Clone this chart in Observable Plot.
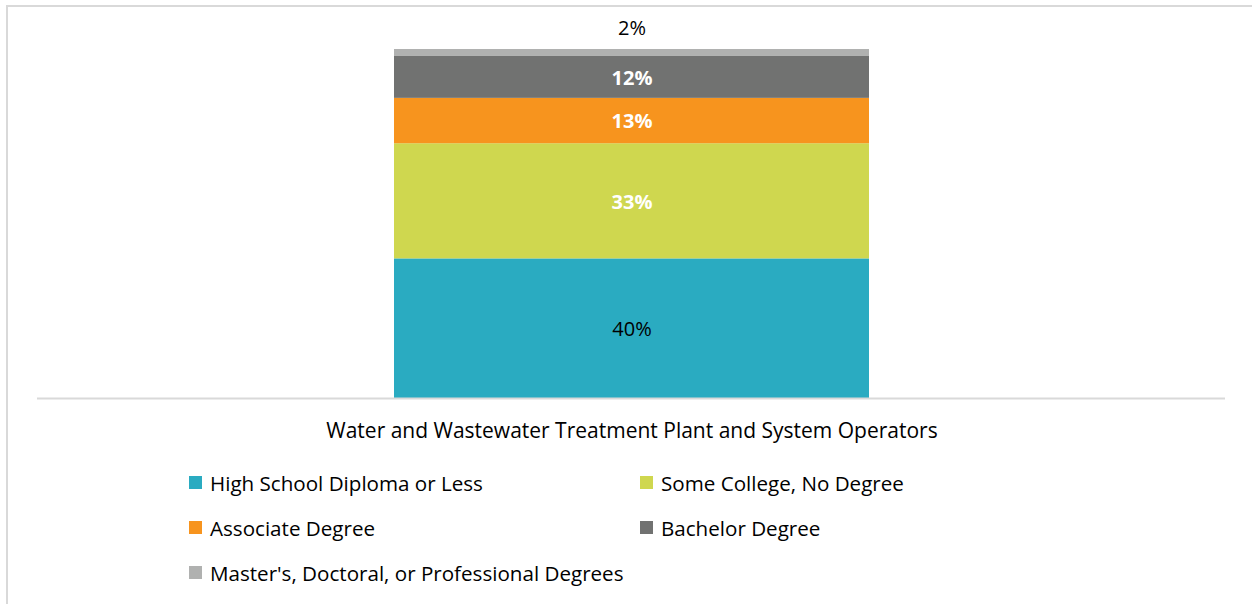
<!DOCTYPE html>
<html>
<head>
<meta charset="utf-8">
<script src="https://cdn.jsdelivr.net/npm/d3@7"></script>
<script src="https://cdn.jsdelivr.net/npm/@observablehq/plot@0.6"></script>
<style>
  html, body { margin: 0; padding: 0; background: #fff; }
  #page { position: relative; width: 1252px; height: 604px; overflow: hidden; font-family: "Open Sans", sans-serif; }
  #frame { position: absolute; left: 6px; top: 5px; width: 1300px; height: 700px; border-top: 2px solid #d9d9d9; border-left: 2px solid #d9d9d9; }
  #chart { position: absolute; left: 0; top: 0; }
  #legend { position: absolute; left: 189px; top: 460px; width: 900px; display: grid; grid-template-columns: 451px 451px; grid-auto-rows: 45px; }
  .item { display: flex; align-items: center; font-size: 20.6px; color: #000; height: 45px; }
  .sw { width: 13px; height: 13px; margin-right: 8px; flex: none; }
</style>
</head>
<body>
<div id="page">
  <div id="frame"></div>
  <div id="chart"></div>
  <div id="legend"></div>
</div>
<script>
const category = "Water and Wastewater Treatment Plant and System Operators";
const levels = ["High School Diploma or Less", "Some College, No Degree", "Associate Degree", "Bachelor Degree", "Master's, Doctoral, or Professional Degrees"];
const shares = [40, 33, 13, 12, 2];
const colors = ["#2AABC1", "#CFD74F", "#F7941E", "#717271", "#B0B1B0"];

const data = levels.map((lvl, i) => ({cat: category, level: lvl, value: shares[i]}));
const lastLevel = levels[levels.length - 1];
const darkLabels = new Set([levels[0]]);
const pct = d => `${d.value}%`;

const plot = Plot.plot({
  width: 1252,
  height: 450,
  marginLeft: 37,
  marginRight: 27,
  marginTop: 49,
  marginBottom: 52,
  style: {fontFamily: "Open Sans, sans-serif", fontSize: "20px", background: "transparent"},
  x: {domain: [category], padding: 0.4286, label: null},
  y: {domain: [0, 100], axis: null},
  color: {domain: levels, range: colors},
  marks: [
    Plot.barY(data, {x: "cat", y: "value", fill: "level", z: "level", order: levels}),
    Plot.ruleY([0], {stroke: "#d9d9d9", strokeWidth: 2}),
    Plot.axisX({tickSize: 0, tickPadding: 25, fontSize: 21, fill: "#000", label: null}),
    Plot.text(data, Plot.stackY({x: "cat", y: "value", z: "level", order: levels,
      text: d => (d.level !== lastLevel && !darkLabels.has(d.level)) ? pct(d) : null,
      fill: "white", fontWeight: "bold", fontSize: 20, dy: 1})),
    Plot.text(data, Plot.stackY({x: "cat", y: "value", z: "level", order: levels,
      text: d => darkLabels.has(d.level) ? pct(d) : null,
      fill: "black", fontSize: 20, dy: 1})),
    Plot.text(data, Plot.stackY2({x: "cat", y: "value", z: "level", order: levels,
      text: d => d.level === lastLevel ? pct(d) : null,
      fill: "black", fontSize: 20, dy: -21}))
  ]
});
document.getElementById("chart").appendChild(plot);

const legend = document.getElementById("legend");
levels.forEach((lvl, i) => {
  const item = document.createElement("div");
  item.className = "item";
  const sw = document.createElement("span");
  sw.className = "sw";
  sw.style.background = colors[i];
  const t = document.createElement("span");
  t.textContent = lvl;
  item.appendChild(sw);
  item.appendChild(t);
  legend.appendChild(item);
});
</script>
</body>
</html>
